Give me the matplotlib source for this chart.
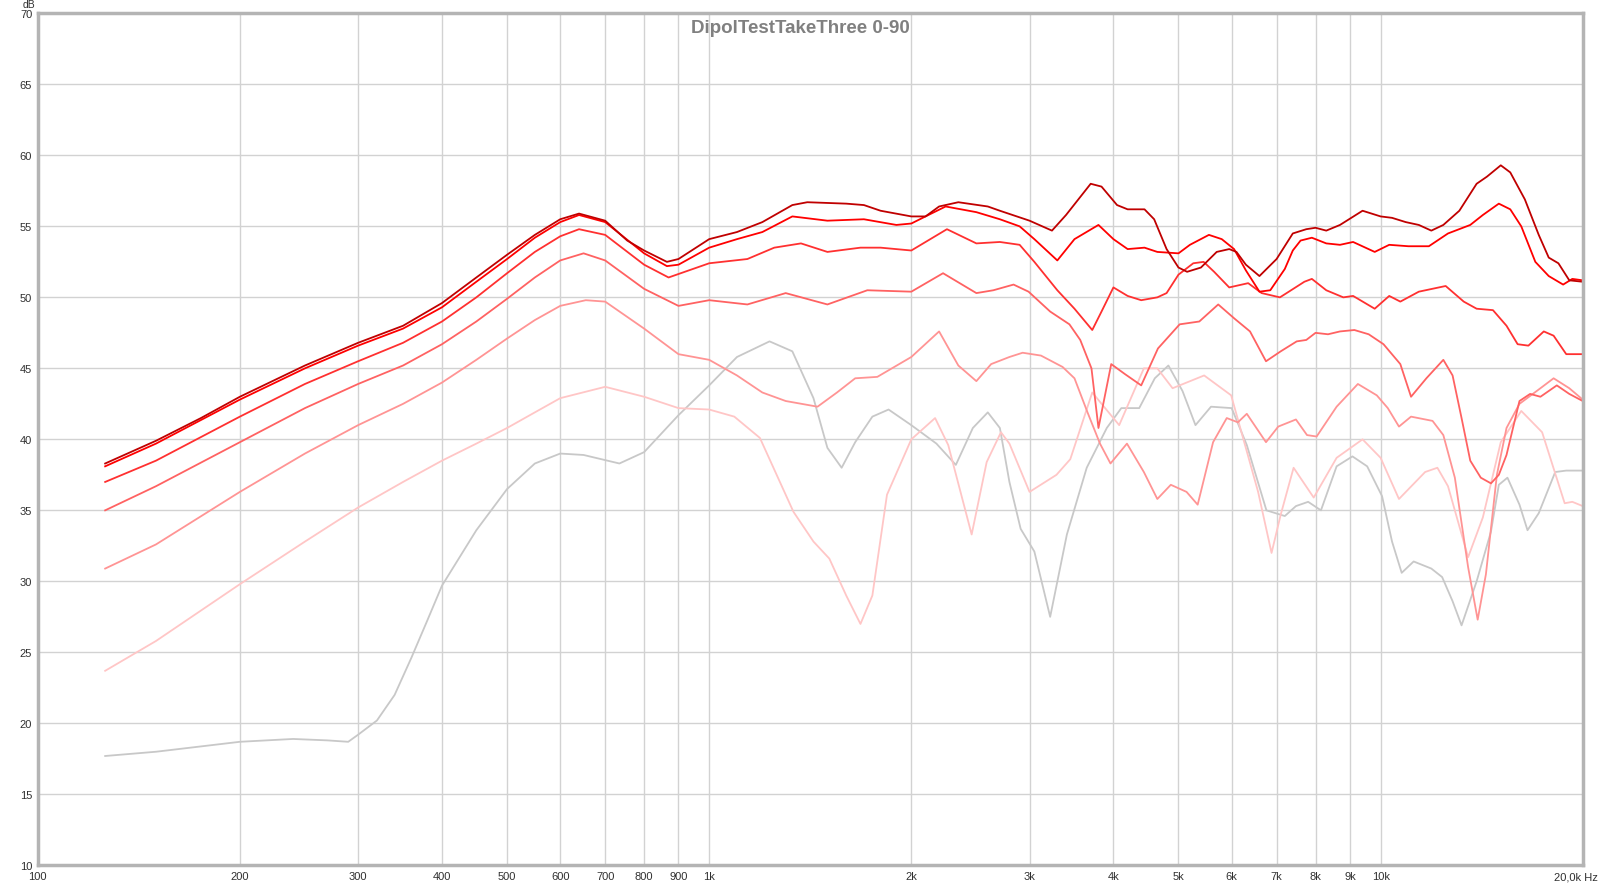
import matplotlib
matplotlib.use('Agg')
import matplotlib.pyplot as plt
from matplotlib import font_manager

# Frequency response traces, 0 to 90 degrees off axis (Hz, dB)
f_0 = [126, 150, 175, 200, 250, 300, 350, 400, 450, 500, 550, 600, 640, 700, 755, 800, 865, 900,
       1000, 1100, 1200, 1330, 1400, 1600, 1700, 1800, 2000, 2100, 2200, 2350, 2600, 2710, 3000,
       3240, 3400, 3700, 3840, 4050, 4200, 4450, 4600, 4800, 5000, 5150, 5400, 5700, 5950, 6100,
       6300, 6600, 7000, 7400, 7750, 8000, 8300, 8700, 9400, 10000, 10400, 10900, 11400, 11900,
       12400, 13100, 13900, 14400, 15100, 15600, 16400, 17200, 17800, 18400, 19100, 20000]
db_0 = [38.3, 39.9, 41.5, 43.0, 45.2, 46.8, 48.0, 49.6, 51.4, 53.0, 54.4, 55.5, 55.9, 55.4, 54.0,
        53.3, 52.5, 52.7, 54.1, 54.6, 55.3, 56.5, 56.7, 56.6, 56.5, 56.1, 55.7, 55.7, 56.4, 56.7,
        56.4, 56.1, 55.4, 54.7, 55.8, 58.0, 57.8, 56.5, 56.2, 56.2, 55.5, 53.4, 52.1, 51.8, 52.1,
        53.2, 53.4, 53.2, 52.3, 51.5, 52.7, 54.5, 54.8, 54.9, 54.7, 55.1, 56.1, 55.7, 55.6, 55.3,
        55.1, 54.7, 55.1, 56.1, 58.0, 58.5, 59.3, 58.8, 56.9, 54.4, 52.8, 52.4, 51.2, 51.1]

f_15 = [126, 150, 200, 250, 300, 350, 400, 450, 500, 550, 600, 640, 700, 800, 865, 900, 1000, 1100,
        1200, 1330, 1500, 1700, 1900, 2000, 2100, 2250, 2500, 2710, 2900, 3050, 3300, 3500, 3800,
        4000, 4200, 4450, 4650, 5000, 5200, 5550, 5800, 6050, 6300, 6600, 6850, 7200, 7400, 7600,
        7900, 8300, 8700, 9100, 9800, 10300, 11000, 11800, 12600, 13600, 14200, 15000, 15600,
        16200, 17000, 17800, 18700, 19300, 20000]
db_15 = [38.1, 39.7, 42.8, 45.0, 46.6, 47.8, 49.3, 51.1, 52.7, 54.2, 55.3, 55.8, 55.3, 53.1, 52.2,
         52.3, 53.5, 54.1, 54.6, 55.7, 55.4, 55.5, 55.1, 55.2, 55.7, 56.4, 56.0, 55.5, 55.0, 54.1,
         52.6, 54.1, 55.1, 54.1, 53.4, 53.5, 53.2, 53.1, 53.7, 54.4, 54.1, 53.4, 51.9, 50.4, 50.5,
         52.0, 53.3, 54.0, 54.2, 53.8, 53.7, 53.9, 53.2, 53.7, 53.6, 53.6, 54.5, 55.1, 55.8, 56.6,
         56.2, 55.0, 52.5, 51.5, 50.9, 51.3, 51.2]

f_30 = [126, 150, 200, 250, 300, 350, 400, 450, 500, 550, 600, 640, 700, 800, 870, 1000, 1140, 1250,
        1370, 1500, 1680, 1800, 2000, 2260, 2500, 2710, 2900, 3050, 3300, 3500, 3720, 3840, 4000,
        4200, 4400, 4650, 4800, 5000, 5260, 5450, 5650, 5950, 6350, 6650, 7080, 7300, 7700, 7900,
        8300, 8800, 9100, 9800, 10300, 10700, 11400, 12500, 13300, 13900, 14700, 15400, 16000,
        16600, 17500, 18100, 18900, 20000]
db_30 = [37.0, 38.5, 41.6, 43.9, 45.5, 46.8, 48.3, 50.0, 51.7, 53.2, 54.3, 54.8, 54.4, 52.3, 51.4,
         52.4, 52.7, 53.5, 53.8, 53.2, 53.5, 53.5, 53.3, 54.8, 53.8, 53.9, 53.7, 52.5, 50.5, 49.2,
         47.7, 49.0, 50.7, 50.1, 49.8, 50.0, 50.3, 51.6, 52.4, 52.5, 51.8, 50.7, 51.0, 50.3, 50.0,
         50.4, 51.1, 51.3, 50.5, 50.0, 50.1, 49.2, 50.1, 49.7, 50.4, 50.8, 49.7, 49.2, 49.1, 48.0,
         46.7, 46.6, 47.6, 47.3, 46.0, 46.0]

f_45 = [126, 150, 200, 250, 300, 350, 400, 450, 500, 550, 600, 650, 700, 800, 900, 1000, 1140, 1300,
        1500, 1720, 2000, 2230, 2500, 2650, 2840, 2990, 3220, 3440, 3570, 3710, 3800, 3970, 4160,
        4400, 4660, 5020, 5370, 5730, 6060, 6390, 6750, 7100, 7500, 7750, 8000, 8350, 8700, 9140,
        9600, 10100, 10700, 11100, 11700, 12400, 12800, 13200, 13600, 14100, 14600, 15000, 15400,
        16100, 16700, 17300, 18300, 19100, 20000]
db_45 = [35.0, 36.7, 39.8, 42.2, 43.9, 45.2, 46.7, 48.3, 49.9, 51.4, 52.6, 53.1, 52.6, 50.6, 49.4,
         49.8, 49.5, 50.3, 49.5, 50.5, 50.4, 51.7, 50.3, 50.5, 50.9, 50.4, 49.0, 48.1, 47.0, 45.0,
         40.8, 45.3, 44.6, 43.8, 46.4, 48.1, 48.3, 49.5, 48.5, 47.6, 45.5, 46.2, 46.9, 47.0, 47.5,
         47.4, 47.6, 47.7, 47.4, 46.7, 45.3, 43.0, 44.3, 45.6, 44.5, 41.5, 38.5, 37.3, 36.9, 37.5,
         38.9, 42.7, 43.2, 43.0, 43.8, 43.2, 42.7]

f_60 = [126, 150, 200, 250, 300, 350, 400, 450, 500, 550, 600, 655, 700, 800, 900, 1000, 1100, 1200,
        1300, 1450, 1550, 1650, 1780, 2000, 2200, 2350, 2500, 2630, 2800, 2930, 3120, 3360, 3500,
        3660, 3820, 3960, 4190, 4440, 4650, 4870, 5140, 5340, 5630, 5900, 6130, 6320, 6750, 7040,
        7480, 7770, 8030, 8600, 9250, 9870, 10250, 10650, 11100, 11950, 12400, 12900, 13500,
        13950, 14350, 14900, 15400, 16100, 17300, 18100, 19100, 20000]
db_60 = [30.9, 32.6, 36.3, 39.0, 41.0, 42.5, 44.0, 45.6, 47.1, 48.4, 49.4, 49.8, 49.7, 47.8, 46.0,
         45.6, 44.5, 43.3, 42.7, 42.3, 43.3, 44.3, 44.4, 45.8, 47.6, 45.2, 44.1, 45.3, 45.8, 46.1,
         45.9, 45.1, 44.3, 41.9, 39.7, 38.3, 39.7, 37.7, 35.8, 36.8, 36.3, 35.4, 39.8, 41.5, 41.2,
         41.8, 39.8, 40.9, 41.4, 40.3, 40.2, 42.3, 43.9, 43.1, 42.2, 40.9, 41.6, 41.3, 40.3, 37.3,
         31.0, 27.3, 30.5, 37.5, 40.8, 42.5, 43.6, 44.3, 43.6, 42.8]

f_75 = [126, 150, 200, 250, 300, 350, 400, 450, 500, 550, 600, 700, 800, 900, 1000, 1090, 1190, 1335,
        1430, 1510, 1600, 1680, 1750, 1840, 2000, 2170, 2270, 2460, 2590, 2720, 2800, 3000, 3290,
        3450, 3720, 4080, 4440, 4650, 4900, 5460, 5990, 6570, 6880, 7100, 7420, 7950, 8600, 9400,
        10000, 10650, 11650, 12150, 12600, 13500, 14200, 15100, 16200, 17400, 18800, 19300, 20000]
db_75 = [23.7, 25.8, 29.8, 32.8, 35.2, 37.0, 38.5, 39.7, 40.8, 41.9, 42.9, 43.7, 43.0, 42.2, 42.1,
         41.6, 40.1, 34.9, 32.8, 31.6, 29.0, 27.0, 29.0, 36.1, 40.0, 41.5, 39.6, 33.3, 38.4, 40.5,
         39.7, 36.3, 37.5, 38.6, 43.3, 41.0, 45.0, 45.0, 43.6, 44.5, 43.1, 36.3, 32.0, 34.7, 38.0,
         35.9, 38.7, 40.0, 38.7, 35.8, 37.7, 38.0, 36.7, 31.7, 34.5, 39.8, 42.0, 40.5, 35.5, 35.6,
         35.3]

f_90 = [126, 150, 200, 240, 270, 290, 300, 320, 340, 360, 380, 400, 450, 500, 550, 600, 650, 735, 800,
        900, 1000, 1100, 1230, 1330, 1430, 1500, 1575, 1650, 1750, 1850, 2000, 2180, 2330, 2470,
        2600, 2710, 2800, 2910, 3050, 3220, 3410, 3650, 3910, 4110, 4370, 4610, 4830, 5070, 5300,
        5590, 6000, 6320, 6760, 7200, 7480, 7800, 8150, 8600, 9080, 9550, 10050, 10400, 10750,
        11200, 11900, 12350, 12800, 13200, 13900, 14600, 15000, 15450, 16100, 16550, 17200, 18200,
        18900, 20000]
db_90 = [17.7, 18.0, 18.7, 18.9, 18.8, 18.7, 19.2, 20.2, 22.0, 24.6, 27.2, 29.7, 33.6, 36.5, 38.3,
         39.0, 38.9, 38.3, 39.1, 41.7, 43.8, 45.8, 46.9, 46.2, 42.9, 39.4, 38.0, 39.8, 41.6, 42.1,
         41.0, 39.7, 38.2, 40.8, 41.9, 40.8, 37.0, 33.7, 32.1, 27.5, 33.3, 38.0, 40.8, 42.2, 42.2,
         44.3, 45.2, 43.4, 41.0, 42.3, 42.2, 39.6, 35.0, 34.6, 35.3, 35.6, 35.0, 38.1, 38.8, 38.1,
         36.0, 32.8, 30.6, 31.4, 30.9, 30.3, 28.6, 26.9, 30.0, 33.5, 36.8, 37.3, 35.4, 33.6, 34.8,
         37.7, 37.8, 37.8]

x_ticks = [100, 200, 300, 400, 500, 600, 700, 800, 900, 1000,
           2000, 3000, 4000, 5000, 6000, 7000, 8000, 9000, 10000]
x_labels = ['100', '200', '300', '400', '500', '600', '700', '800', '900', '1k',
            '2k', '3k', '4k', '5k', '6k', '7k', '8k', '9k', '10k']
y_ticks = [10, 15, 20, 25, 30, 35, 40, 45, 50, 55, 60, 65, 70]

installed = {f.name for f in font_manager.fontManager.ttflist}
narrow = 'Liberation Sans Narrow' if 'Liberation Sans Narrow' in installed else 'Liberation Sans'

fig = plt.figure(figsize=(16, 8.87), dpi=100)
ax = fig.add_axes([0.0236, 0.0233, 0.9656, 0.9605])

# back to front: 90 deg first, 0 deg on top
traces = [(f_90, db_90, '#c8c8c8'), (f_75, db_75, '#ffc6c6'), (f_60, db_60, '#ff9494'),
          (f_45, db_45, '#ff6262'), (f_30, db_30, '#ff3030'), (f_15, db_15, '#ff0000'),
          (f_0, db_0, '#c00000')]
for f, db, col in traces:
    ax.plot(f, db, color=col, lw=1.3, solid_joinstyle='round')

ax.set_xscale('log')
ax.set_xlim(100, 20000)
ax.set_ylim(10, 70)
ax.set_xticks(x_ticks)
ax.set_xticklabels(x_labels)
ax.xaxis.set_minor_locator(matplotlib.ticker.NullLocator())
ax.set_yticks(y_ticks)
ax.set_yticklabels([str(v) for v in y_ticks])
ax.tick_params(length=0, labelsize=8, colors='#303030', pad=4)
for lab in ax.get_xticklabels() + ax.get_yticklabels():
    lab.set_family(narrow)

ax.grid(True, color='#d2d2d2', lw=1)
ax.set_axisbelow(True)
for sp in ax.spines.values():
    sp.set_color('#b4b4b4')
    sp.set_linewidth(2.5)

fig.text(0.9985, 0.0105, '20,0k Hz', ha='right', va='center', fontsize=8,
         family=narrow, color='#303030')
fig.text(0.022, 0.9905, 'dB', ha='right', va='baseline', fontsize=7.5, family=narrow,
         color='#303030')
fig.text(0.5, 0.968, 'DipolTestTakeThree 0-90', ha='center', va='center', fontsize=13.5,
         fontweight='bold', family='Liberation Sans', color='#808080')

fig.savefig('out.png', dpi=100)
